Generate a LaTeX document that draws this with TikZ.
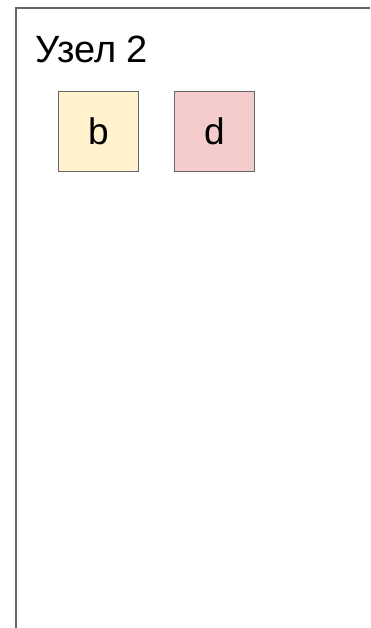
\documentclass[tikz,border=0pt]{standalone}
\usepackage{fontspec}
\setmainfont{Liberation Sans}
\definecolor{framegray}{HTML}{666666}
\definecolor{yel}{HTML}{FFF2CC}
\definecolor{pnk}{HTML}{F4CCCC}
\begin{document}
\begin{tikzpicture}[x=1pt,y=-1pt,
  cell/.style={draw=framegray,line width=1pt,minimum size=80pt,inner sep=0pt,font=\fontsize{37}{44}\selectfont},
  title/.style={anchor=base west,inner sep=0pt,font=\fontsize{38}{46}\selectfont}]
\useasboundingbox (0,0) rectangle (370,628);
\clip (0,0) rectangle (370,628);
\draw[framegray,line width=2pt] (16,650) -- (16,8) -- (400,8);
\node[title] (t) at (35,62.5) {Узел 2};
\node[cell,fill=yel] (b) at (98.5,131.5) {b};
\node[cell,fill=pnk] (d) at (214.5,131.5) {d};
\end{tikzpicture}
\end{document}
